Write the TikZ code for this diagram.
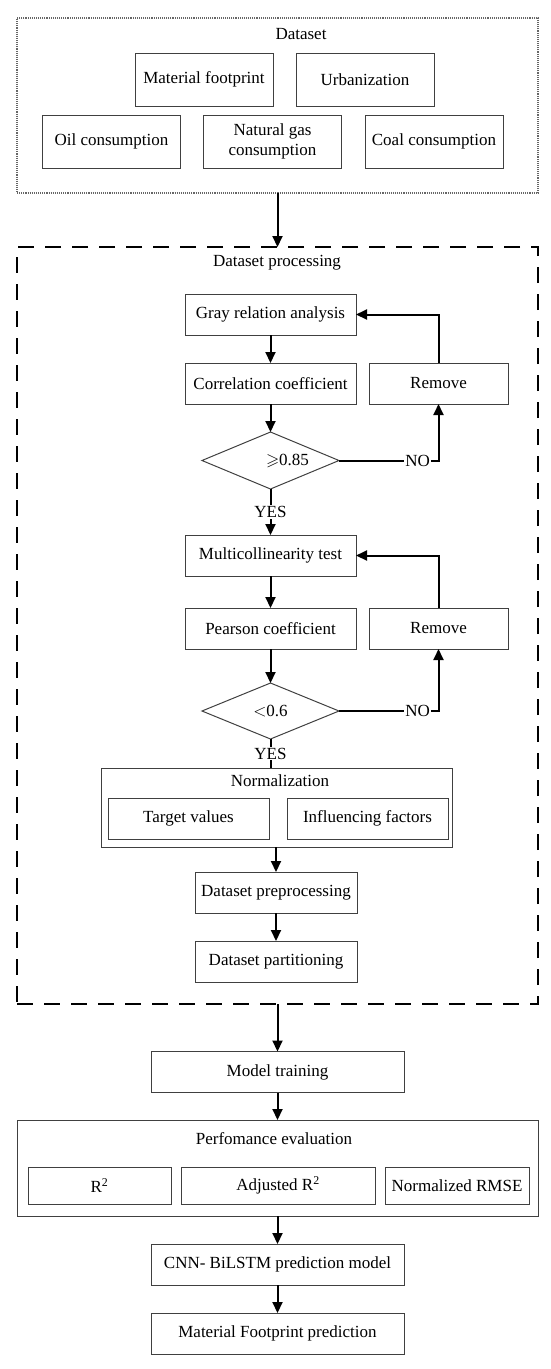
\documentclass[tikz,border=0pt]{standalone}
\usepackage{amssymb}
\usepackage{fontspec}
\setmainfont{Liberation Serif}
\usetikzlibrary{positioning,arrows.meta,shapes.geometric}

\begin{document}
\begin{tikzpicture}[x=1pt,y=1pt,font=\fontsize{17}{20}\selectfont,
  >={Stealth[length=11pt,width=10pt,inset=0pt]},
  b/.style={draw=black!75,line width=1pt,inner sep=0pt,outer sep=0pt,minimum height=41pt},
  db/.style={b,minimum width=138pt,minimum height=53pt,align=center},
  dec/.style={draw=black!75,line width=1pt,diamond,inner sep=0pt,outer sep=0pt,minimum width=137pt,minimum height=57pt},
  grp/.style={draw=black!75,line width=1pt,inner sep=0pt,outer sep=0pt},
  ar/.style={->,line width=2pt},
  lbl/.style={fill=white,inner sep=1pt}]
  \useasboundingbox (0,0) rectangle (550,-1369);
  % dataset
  \node[grp,draw=black!60,line width=1.1pt,densely dotted,minimum width=521pt,minimum height=175pt] (ds) at (277.5,-105.5) {};
  \node (dst) at (301,-34) {Dataset};
  \node[db] (mf) at (204,-79.5) {Material footprint};
  \node[db] (urb) at (365,-79.5) {Urbanization};
  \node[db] (oil) at (111.5,-141.5) {Oil consumption};
  \node[db] (gas) at (272.5,-141.5) {Natural gas\\consumption};
  \node[db] (coal) at (434,-141.5) {Coal consumption};
  % dataset processing
  \node[grp,draw=black,line width=1.4pt,dash pattern=on 16pt off 11pt,minimum width=521pt,minimum height=757pt] (dp) at (277.5,-625.5) {};
  \node (dpt) at (277,-263) {Dataset processing};
  \node[b,minimum width=171pt] (gra) at (270.5,-314.5) {Gray relation analysis};
  \node[b,minimum width=171pt,below=28pt of gra] (cor) {Correlation coefficient};
  \node[b,minimum width=139pt] (rm1) at (438.5,-383.5) {Remove};
  \node[dec,below=28pt of cor,label={[xshift=17pt]center:$\geqslant$0.85}] (d1) {};
  \node[b,minimum width=171pt,below=46pt of d1] (mul) {Multicollinearity test};
  \node[b,minimum width=171pt,below=32pt of mul] (pea) {Pearson coefficient};
  \node[b,minimum width=139pt] (rm2) at (438.5,-628.5) {Remove};
  \node[dec,minimum height=56pt,below=34pt of pea] (d2) {$<$0.6};
  \node[grp,minimum width=351pt,minimum height=79pt] (nrm) at (276.5,-807.5) {};
  \node (nrmt) at (280,-781) {Normalization};
  \node[b,minimum width=161pt] (tv) at (188.5,-818.5) {Target values};
  \node[b,minimum width=161pt] (inf) at (367.5,-818.5) {Influencing factors};
  \node[b,minimum width=162pt] (pre) at (276,-892.5) {Dataset preprocessing};
  \node[b,minimum width=162pt,below=28pt of pre] (par) {Dataset partitioning};
  % model
  \node[b,minimum width=253pt] (mt) at (277.5,-1072) {Model training};
  \node[grp,minimum width=521pt,minimum height=96pt] (pe) at (277.5,-1168) {};
  \node (pet) at (274,-1139) {Perfomance evaluation};
  \node[b,minimum width=143pt,minimum height=37pt] (r2) at (99.5,-1185.5) {R\textsuperscript{2}};
  \node[b,minimum width=194pt,minimum height=37pt] (ar2) at (278,-1185.5) {Adjusted R\textsuperscript{2}};
  \node[b,minimum width=144pt,minimum height=37pt] (rmse) at (457,-1185.5) {Normalized RMSE};
  \node[b,minimum width=253pt] (cnn) at (277.5,-1264.5) {CNN- BiLSTM prediction model};
  \node[b,minimum width=253pt,below=28pt of cnn] (mfp) {Material Footprint prediction};

  \draw[ar] (ds.south) -- (dp.north);
  \draw[ar] (gra) -- (cor);
  \draw[ar] (cor) -- (d1);
  \draw[ar] (d1) -- node[lbl]{YES} (mul);
  \draw[ar] (d1.east) -- node[lbl,pos=0.79]{NO} (d1.east -| rm1) -- (rm1);
  \draw[ar] (rm1) |- (gra);
  \draw[ar] (mul) -- (pea);
  \draw[ar] (pea) -- (d2);
  \draw[line width=2pt] (d2.south) -- node[lbl]{YES} (d2.south |- nrm.north);
  \draw[ar] (d2.east) -- node[lbl,pos=0.79]{NO} (d2.east -| rm2) -- (rm2);
  \draw[ar] (rm2) |- (mul);
  \draw[ar] (pre.north |- nrm.south) -- (pre);
  \draw[ar] (pre) -- (par);
  \draw[ar] (dp.south) -- (mt);
  \draw[ar] (mt) -- (pe);
  \draw[ar] (pe) -- (cnn);
  \draw[ar] (cnn) -- (mfp);
\end{tikzpicture}
\end{document}
